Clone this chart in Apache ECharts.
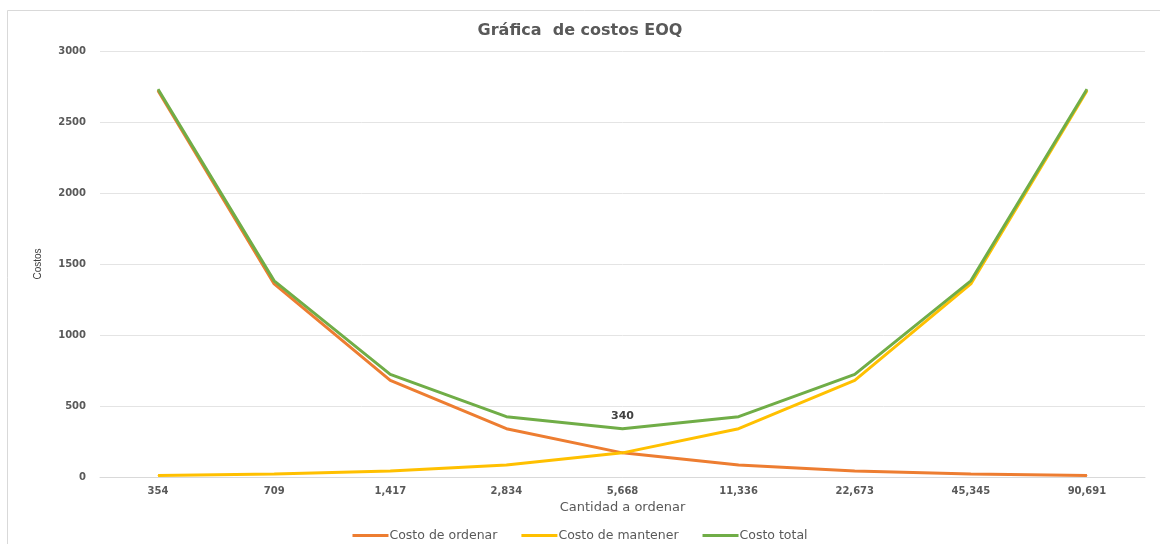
<!DOCTYPE html>
<html>
<head>
<meta charset="utf-8">
<script src="https://cdn.jsdelivr.net/npm/echarts@6/dist/echarts.min.js"></script>
<style>
  html, body { margin: 0; padding: 0; background: #fff; }
  #chart { width: 1160px; height: 544px; }
</style>
</head>
<body>
<div id="chart"></div>
<script>
// Order quantities (x categories)
const cantidades = ['354', '709', '1,417', '2,834', '5,668', '11,336', '22,673', '45,345', '90,691'];
// Ordering cost per quantity
const costoOrdenar = [2720, 1360, 680, 340, 170, 85, 42.5, 21.3, 10.6];
// Holding cost per quantity
const costoMantener = [10.6, 21.3, 42.5, 85, 170, 340, 680, 1360, 2720];
// Total cost per quantity
const costoTotal = [2730.6, 1381.3, 722.5, 425, 340, 425, 722.5, 1381.3, 2730.6];
// Index of the minimum total cost (EOQ point)
const idxMinimo = 4;

const fontFam = 'DejaVu Sans, Verdana, sans-serif';
const grisTexto = '#595959';

const chart = echarts.init(document.getElementById('chart'));

const totalData = costoTotal.map((v, i) => i === idxMinimo
  ? { value: v, label: { show: true, position: 'top', distance: 7, color: '#404040', fontSize: 11, fontWeight: 'bold', fontFamily: fontFam } }
  : v);

// Plain line; a tiny same-colour symbol keeps the point label available
const lineSeries = (name, data, color) => ({
  name: name,
  type: 'line',
  data: data,
  symbol: 'circle',
  symbolSize: 1,
  showSymbol: true,
  lineStyle: { color: color, width: 3 },
  itemStyle: { color: color },
  emphasis: { disabled: true }
});

chart.setOption({
  animation: false,
  backgroundColor: '#fff',
  title: {
    text: 'Gráfica  de costos EOQ',
    left: 'center',
    top: 18,
    textStyle: { fontFamily: fontFam, fontSize: 16, fontWeight: 'bold', color: grisTexto }
  },
  graphic: [
    {
      type: 'rect',
      shape: { x: 7.5, y: 10.5, width: 1170, height: 560 },
      style: { fill: 'none', stroke: '#d9d9d9', lineWidth: 1 },
      silent: true
    }
  ],
  legend: {
    left: 'center',
    top: 524,
    icon: 'rect',
    itemWidth: 36,
    itemHeight: 3,
    itemGap: 24,
    textStyle: { fontFamily: fontFam, fontSize: 12.5, color: grisTexto, padding: [0, 0, 0, -4] },
    data: ['Costo de ordenar', 'Costo de mantener', 'Costo total']
  },
  grid: { left: 100, right: 15, top: 51, bottom: 67 },
  xAxis: {
    type: 'category',
    data: cantidades,
    boundaryGap: true,
    name: 'Cantidad a ordenar',
    nameLocation: 'middle',
    nameGap: 22,
    nameTextStyle: { color: grisTexto, fontFamily: fontFam, fontSize: 13 },
    axisLine: { lineStyle: { color: '#d9d9d9', width: 1 } },
    axisTick: { show: false },
    axisLabel: { color: grisTexto, fontFamily: fontFam, fontSize: 10, fontWeight: 'bold', margin: 9 }
  },
  yAxis: {
    type: 'value',
    min: 0,
    max: 3000,
    interval: 500,
    name: 'Costos',
    nameLocation: 'middle',
    nameGap: 57,
    nameTextStyle: { color: '#404040', fontFamily: 'Liberation Sans Narrow, Arial Narrow, sans-serif', fontSize: 10 },
    axisLine: { show: false },
    axisTick: { show: false },
    axisLabel: {
      color: grisTexto, fontFamily: fontFam, fontSize: 10, fontWeight: 'bold', margin: 14,
      formatter: (v) => String(v)
    },
    splitLine: { lineStyle: { color: '#e4e4e4', width: 1 } }
  },
  series: [
    lineSeries('Costo de ordenar', costoOrdenar, '#ED7D31'),
    lineSeries('Costo de mantener', costoMantener, '#FFC000'),
    lineSeries('Costo total', totalData, '#70AD47')
  ]
});
</script>
</body>
</html>
